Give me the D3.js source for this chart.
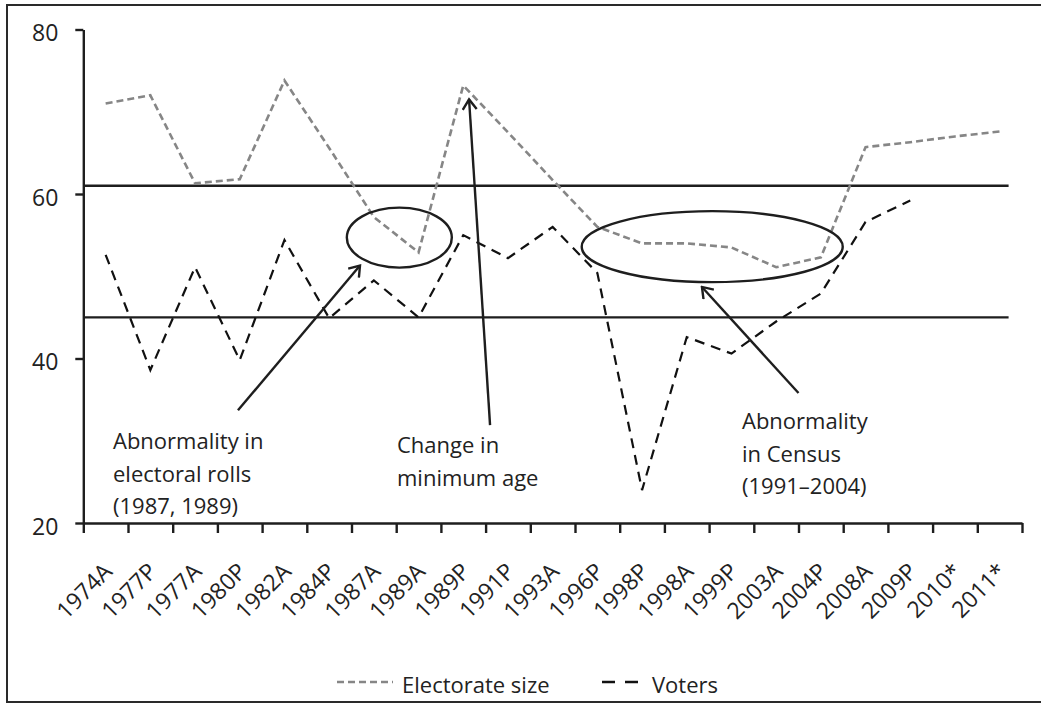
<!DOCTYPE html>
<meta charset="utf-8">
<script src="https://d3js.org/d3.v7.min.js"></script>
<style>
  body { margin: 0; background: #fff; }
  svg text { font-family: "Open Sans", sans-serif; fill: #222; }
</style>
<div id="chart"></div>
<script>

// categories on the x axis
var years = ["1974A", "1977P", "1977A", "1980P", "1982A", "1984P", "1987A", "1989A",
             "1989P", "1991P", "1993A", "1996P", "1998P", "1998A", "1999P", "2003A",
             "2004P", "2008A", "2009P", "2010*", "2011*"];

// series
var electorate = [71, 72, 61.3, 61.8, 73.8, 65.6, 57.2, 52.9, 73.2, 67.5, 61.7,
                  56, 54, 54, 53.5, 51.1, 52.3, 65.7, 66.3, 67, 67.6];
var voters = [52.6, 38.6, 51.1, 39.8, 54.4, 44.9, 49.5, 45, 55, 52.2, 56,
              50.4, 24, 42.6, 40.6, 44.5, 47.9, 56.6, 59.2, null, null];

// the two horizontal reference levels
var refLevels = [61, 45];
var yTicks = [20, 40, 60, 80];

var W = 1041, H = 704;
var plotLeft = 83.3, plotRight = 1022, plotTop = 29.5, plotBottom = 523;

var svg = d3.select("#chart").append("svg")
    .attr("width", W)
    .attr("height", H);

// outer frame (right side runs off the picture)
svg.append("rect")
    .attr("x", 7).attr("y", 5)
    .attr("width", 1060).attr("height", 697)
    .attr("fill", "none")
    .attr("stroke", "#2a2a2a")
    .attr("stroke-width", 2);

var x = d3.scaleBand().domain(years).range([plotLeft, plotRight]).padding(0);
var xEdge = d3.scaleLinear().domain([0, years.length]).range([plotLeft, plotRight]);
var y = d3.scaleLinear().domain([20, 80]).range([plotBottom, plotTop]);

function cx(d, i) { return x(years[i]) + x.bandwidth() / 2; }

// reference lines
svg.selectAll(".ref")
  .data(refLevels)
  .enter().append("line")
    .attr("x1", plotLeft)
    .attr("x2", xEdge(years.length - 0.3))
    .attr("y1", function(d) { return y(d); })
    .attr("y2", function(d) { return y(d); })
    .attr("stroke", "#1e1e1e")
    .attr("stroke-width", 2.4);

// y axis
var yAxis = svg.append("g")
    .attr("transform", "translate(" + plotLeft + ",0)")
    .call(d3.axisLeft(y).tickValues(yTicks).tickSize(8).tickPadding(17).tickSizeOuter(0));
yAxis.select(".domain").attr("stroke", "#1e1e1e").attr("stroke-width", 2.4);
yAxis.selectAll(".tick line").attr("stroke", "#1e1e1e").attr("stroke-width", 2.4);
yAxis.selectAll(".tick text")
    .attr("font-size", 23)
    .attr("dy", "0.48em")
    .style("font-family", "'Open Sans', sans-serif")
    .attr("fill", "#222");

// x axis: ticks between categories
var xAxis = svg.append("g")
    .attr("transform", "translate(0," + plotBottom + ")")
    .call(d3.axisBottom(xEdge).tickValues(d3.range(years.length + 1))
          .tickFormat("").tickSize(10).tickSizeOuter(0));
xAxis.select(".domain").attr("stroke", "#1e1e1e").attr("stroke-width", 2.4);
xAxis.selectAll(".tick line").attr("stroke", "#1e1e1e").attr("stroke-width", 2.4);

// x labels, rotated
var xLab = svg.append("g")
    .attr("transform", "translate(0," + plotBottom + ")")
    .call(d3.axisBottom(x).tickSize(0).tickSizeOuter(0));
xLab.select(".domain").remove();
xLab.selectAll(".tick text")
    .attr("font-size", 23)
    .style("font-family", "'Open Sans', sans-serif")
    .attr("fill", "#222")
    .attr("text-anchor", "end")
    .attr("y", 0)
    .attr("dy", 0)
    .attr("transform", "translate(8,50) rotate(-45)");

// lines
var line = d3.line()
    .defined(function(d) { return d != null; })
    .x(cx)
    .y(function(d) { return y(d); });

svg.append("path")
    .datum(electorate)
    .attr("d", line)
    .attr("fill", "none")
    .attr("stroke", "#868686")
    .attr("stroke-width", 2.6)
    .attr("stroke-dasharray", "7,4");

svg.append("path")
    .datum(voters)
    .attr("d", line)
    .attr("fill", "none")
    .attr("stroke", "#111")
    .attr("stroke-width", 2.2)
    .attr("stroke-dasharray", "10,7");

// annotations
svg.append("defs").append("marker")
    .attr("id", "arrow")
    .attr("viewBox", "-12 -8 14 16")
    .attr("refX", 0).attr("refY", 0)
    .attr("markerWidth", 14).attr("markerHeight", 16)
    .attr("markerUnits", "userSpaceOnUse")
    .attr("orient", "auto")
  .append("path")
    .attr("d", "M-10,-7 L0,0 L-10,7")
    .attr("fill", "none")
    .attr("stroke", "#1e1e1e")
    .attr("stroke-width", 2.4);

var ellipses = [
  {i: 7.07, v: 54.7, rx: 52.5, ry: 30},
  {i: 14.07, v: 53.6, rx: 130.5, ry: 35.5}
];
svg.selectAll(".ell")
  .data(ellipses)
  .enter().append("ellipse")
    .attr("cx", function(d) { return xEdge(d.i); })
    .attr("cy", function(d) { return y(d.v); })
    .attr("rx", function(d) { return d.rx; })
    .attr("ry", function(d) { return d.ry; })
    .attr("fill", "none")
    .attr("stroke", "#1e1e1e")
    .attr("stroke-width", 2.4);

var arrows = [
  {i1: 3.46, v1: 33.7, i2: 6.19, v2: 51.3},
  {i1: 9.1, v1: 31.9, i2: 8.63, v2: 71.5},
  {i1: 16.0, v1: 35.8, i2: 13.84, v2: 48.7}
];
svg.selectAll(".arr")
  .data(arrows)
  .enter().append("line")
    .attr("x1", function(d) { return xEdge(d.i1); })
    .attr("y1", function(d) { return y(d.v1); })
    .attr("x2", function(d) { return xEdge(d.i2); })
    .attr("y2", function(d) { return y(d.v2); })
    .attr("stroke", "#1e1e1e")
    .attr("stroke-width", 2.4)
    .attr("marker-end", "url(#arrow)");

var notes = [
  {x: 113, y: 449, lines: ["Abnormality in", "electoral rolls", "(1987, 1989)"]},
  {x: 397, y: 453, lines: ["Change in", "minimum age"]},
  {x: 742, y: 429, lines: ["Abnormality", "in Census", "(1991\u20132004)"]}
];
notes.forEach(function(n) {
  var t = svg.append("text")
      .attr("x", n.x).attr("y", n.y)
      .attr("font-size", 22);
  n.lines.forEach(function(s, k) {
    t.append("tspan")
      .attr("x", n.x)
      .attr("dy", k === 0 ? 0 : 32.5)
      .text(s);
  });
});

// legend
var legend = svg.append("g");
legend.append("line")
    .attr("x1", 337).attr("x2", 393).attr("y1", 682).attr("y2", 682)
    .attr("stroke", "#868686").attr("stroke-width", 2.6)
    .attr("stroke-dasharray", "7,4");
legend.append("text")
    .attr("x", 402).attr("y", 693)
    .attr("font-size", 22)
    .text("Electorate size");
legend.append("line")
    .attr("x1", 602).attr("x2", 638).attr("y1", 682).attr("y2", 682)
    .attr("stroke", "#111").attr("stroke-width", 2.4)
    .attr("stroke-dasharray", "13,10");
legend.append("text")
    .attr("x", 652).attr("y", 693)
    .attr("font-size", 22)
    .text("Voters");

</script>
